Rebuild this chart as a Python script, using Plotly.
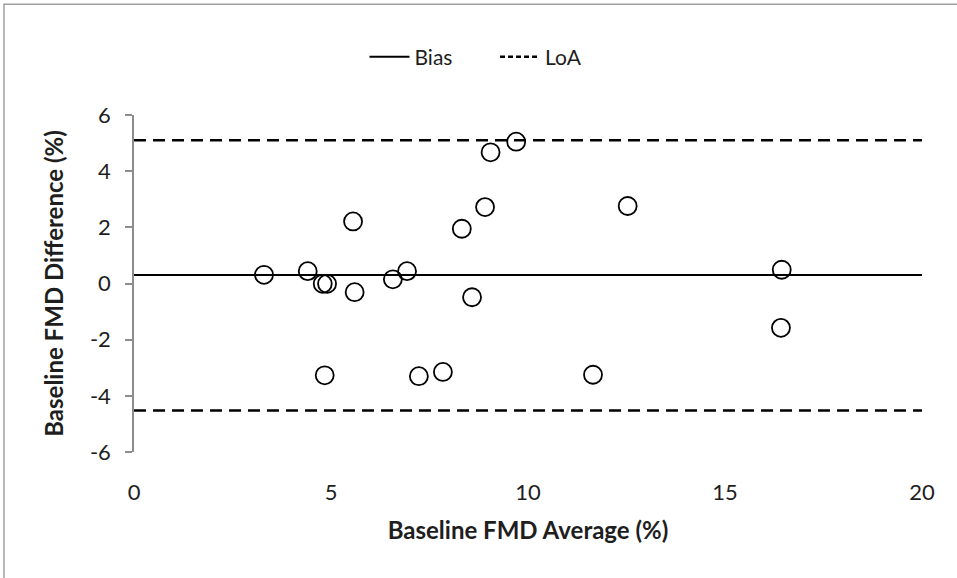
import plotly.graph_objects as go

# Bland-Altman data
fmd_average = [3.30, 4.41, 4.79, 4.90, 5.56, 5.60, 6.57, 6.93, 8.32, 8.91,
               9.05, 9.70, 12.53, 8.58, 16.44, 16.42, 4.84, 7.23, 7.84, 11.65]
fmd_difference = [0.31, 0.44, -0.01, -0.01, 2.21, -0.31, 0.15, 0.44, 1.95, 2.72,
                  4.67, 5.05, 2.76, -0.49, 0.49, -1.58, -3.27, -3.30, -3.15, -3.25]
bias = 0.30
loa_upper = 5.10
loa_lower = -4.52
x_span = [0, 20]
y_ticks = [-6, -4, -2, 0, 2, 4, 6]
y_tick_labels = ["-6", "-4", "-2", "0", "2", "4", "6"]
x_ticks = [0, 5, 10, 15, 20]
x_tick_labels = ["0", "5", "10", "15", "20"]

FONT = "Lato, Carlito, Calibri, sans-serif"
TXT = "#1e1e1e"
PAD = "\u00a0" * 7

fig = go.Figure()

fig.add_trace(go.Scatter(
    x=x_span, y=[bias, bias], mode="lines", name="Bias" + PAD,
    line=dict(color="black", width=2), hoverinfo="skip"))

# legend entry for the limits of agreement (finer dash so 4 dashes show)
fig.add_trace(go.Scatter(
    x=[None], y=[None], mode="lines", name="LoA", legendgroup="loa",
    line=dict(color="black", width=2.5, dash="5px,3px"), hoverinfo="skip"))

fig.add_trace(go.Scatter(
    x=x_span + [None] + x_span,
    y=[loa_upper, loa_upper, None, loa_lower, loa_lower],
    mode="lines", name="LoA", legendgroup="loa", showlegend=False,
    line=dict(color="black", width=2.5, dash="12px,7px"), hoverinfo="skip"))

fig.add_trace(go.Scatter(
    x=fmd_average, y=fmd_difference, mode="markers", showlegend=False,
    marker=dict(symbol="circle-open", size=18, color="black",
                line=dict(color="black", width=1.8))))

fig.update_layout(
    width=957, height=578,
    margin=dict(l=134, r=35, t=115, b=126),
    paper_bgcolor="white", plot_bgcolor="white",
    font=dict(family=FONT, size=22, color=TXT),
    showlegend=True,
    legend=dict(orientation="h", x=0.434, xanchor="center", y=1.172, yanchor="middle",
                font=dict(family=FONT, size=21, color=TXT),
                itemwidth=40, bgcolor="rgba(0,0,0,0)"),
    xaxis=dict(range=x_span, tickvals=x_ticks, ticktext=x_tick_labels,
               showgrid=False, zeroline=False,
               showline=False, ticks="", ticklabelstandoff=25,
               tickfont=dict(family=FONT, size=22, color=TXT),
               title=dict(text="<b>Baseline FMD Average (%)</b>", standoff=18,
                          font=dict(family=FONT, size=24, color=TXT))),
    yaxis=dict(range=[-6, 6], tickvals=y_ticks, ticktext=y_tick_labels,
               showgrid=False, zeroline=False,
               showline=True, linecolor="#8c8c8c", linewidth=1.5,
               ticks="outside", ticklen=7, tickcolor="#8c8c8c", tickwidth=1.5,
               ticklabelstandoff=10,
               tickfont=dict(family=FONT, size=22, color=TXT),
               title=dict(text="<b>Baseline FMD Difference (%)</b>", standoff=20,
                          font=dict(family=FONT, size=24, color=TXT))),
    shapes=[dict(type="rect", xref="paper", yref="paper",
                 x0=-0.165, x1=1.2, y0=-0.6, y1=1.329,
                 line=dict(color="#a0a0a0", width=1.5), fillcolor="rgba(0,0,0,0)",
                 layer="below")],
)

fig.write_html("out.html")
